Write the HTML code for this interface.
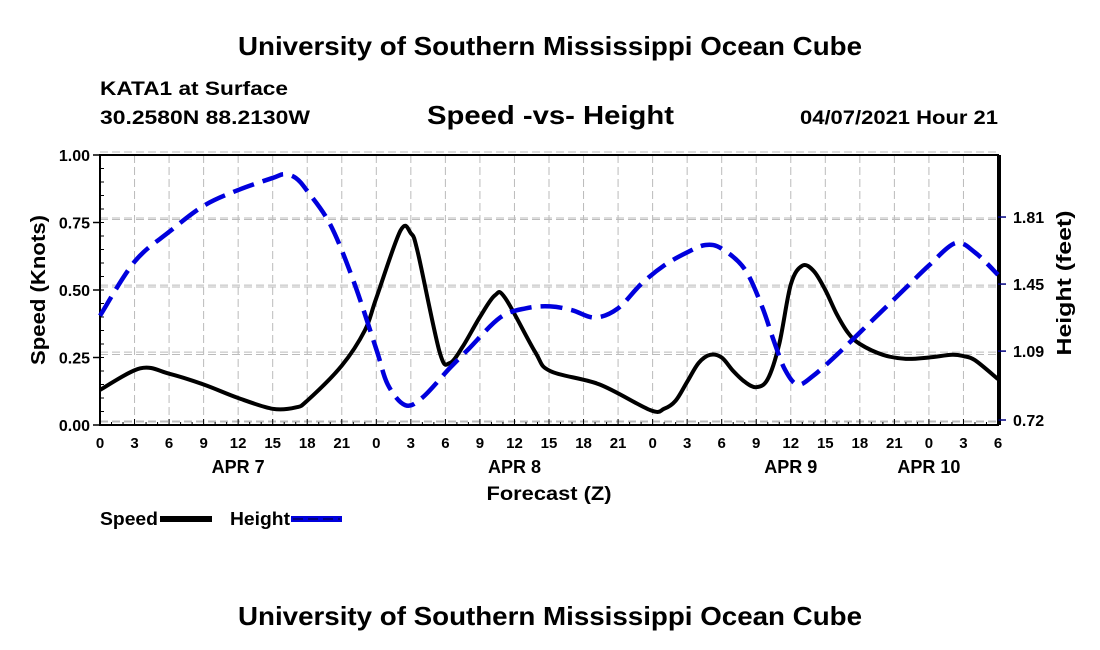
<!DOCTYPE html>
<html><head><meta charset="utf-8"><style>
body{margin:0;background:#fff;}
svg{display:block;font-family:"Liberation Sans",sans-serif;font-weight:bold;}
</style></head><body>
<svg id="c" width="1100" height="650" viewBox="0 0 1100 650">
<text x="238" y="55" font-size="26" textLength="624" lengthAdjust="spacingAndGlyphs">University of Southern Mississippi Ocean Cube</text>
<text x="100" y="95" font-size="19" textLength="188" lengthAdjust="spacingAndGlyphs">KATA1 at Surface</text>
<text x="100" y="124" font-size="19" textLength="210" lengthAdjust="spacingAndGlyphs">30.2580N  88.2130W</text>
<text x="427" y="124" font-size="26" textLength="247" lengthAdjust="spacingAndGlyphs">Speed -vs- Height</text>
<text x="800" y="124" font-size="19" textLength="198" lengthAdjust="spacingAndGlyphs">04/07/2021 Hour 21</text>
<g id="grid"></g>
<g id="axes"></g>
<path id="speed" fill="none" stroke="#000" stroke-width="4"/>
<path id="height" fill="none" stroke="#0000dd" stroke-width="4.5" stroke-dasharray="22 9"/>
<text x="100" y="525" font-size="18" textLength="58" lengthAdjust="spacingAndGlyphs">Speed</text>
<rect x="160" y="516" width="52" height="6" fill="#000"/>
<text x="230" y="525" font-size="18" textLength="60" lengthAdjust="spacingAndGlyphs">Height</text>
<rect x="291" y="516" width="51" height="6" fill="#0000dd"/>
<line x1="293" y1="519" x2="340" y2="519" stroke="#000080" stroke-width="2" stroke-dasharray="10 5"/>
<text x="238" y="625" font-size="26" textLength="624" lengthAdjust="spacingAndGlyphs">University of Southern Mississippi Ocean Cube</text>
<text x="45" y="290" font-size="20" text-anchor="middle" transform="rotate(-90 45 290)" textLength="150" lengthAdjust="spacingAndGlyphs">Speed (Knots)</text>
<text x="1071" y="283" font-size="20" text-anchor="middle" transform="rotate(-90 1071 283)" textLength="145" lengthAdjust="spacingAndGlyphs">Height (feet)</text>
<text x="549" y="500" font-size="19" text-anchor="middle" textLength="125" lengthAdjust="spacingAndGlyphs">Forecast (Z)</text>
</svg>
<script>
const speedHours=[0,3.5,6,9,12,15,17,18,21,23,24,26.1,27,27.6,29.5,30.4,31.5,33,34.3,35.2,37.8,39.1,43.4,47.8,49,50,51,52,53,54,55,56,57,58,59,60,61,62,63,64,65,66,68,70,72,74,75,76,78];
const speedValues=[0.13,0.21,0.19,0.15,0.10,0.06,0.065,0.09,0.22,0.35,0.47,0.72,0.71,0.64,0.27,0.23,0.29,0.40,0.48,0.47,0.27,0.20,0.15,0.055,0.06,0.09,0.16,0.23,0.26,0.25,0.20,0.16,0.14,0.17,0.30,0.52,0.59,0.57,0.50,0.41,0.34,0.30,0.26,0.245,0.25,0.26,0.255,0.24,0.17];
const heightHours=[0,3,6,9,12,15,16,17,18,20,22,24,25,26.5,28,30.4,32,34.75,37,39.1,41,43,45,47,49,51,52.6,54,56,57.5,58.5,59.5,60.6,62,64,66,68,70,72,74.3,76,78];
const heightValues=[1.28,1.57,1.73,1.87,1.955,2.02,2.04,2.02,1.95,1.77,1.47,1.10,0.91,0.80,0.84,1.0,1.10,1.27,1.32,1.33,1.31,1.27,1.32,1.45,1.55,1.62,1.66,1.64,1.53,1.33,1.15,0.99,0.91,0.96,1.07,1.19,1.31,1.43,1.55,1.67,1.62,1.50];
const speedTicks=["0.00","0.25","0.50","0.75","1.00"];
const heightTicks=["0.72","1.09","1.45","1.81"];
const hourLabels=["0","3","6","9","12","15","18","21","0","3","6","9","12","15","18","21","0","3","6","9","12","15","18","21","0","3","6"];
const dayLabels=["APR 7","APR 8","APR 9","APR 10"];
const dayCenters=[12,36,60,72];

const X0=100,X1=998,Y0=425,Y1=155,H=78;
const x=h=>X0+h*(X1-X0)/H;
const ys=v=>Y0-v*(Y0-Y1);
const yh=f=>420-(f-0.72)/0.3625*67.5;
const NS="http://www.w3.org/2000/svg";
function mk(parent,tag,attrs){const e=document.createElementNS(NS,tag);for(const k in attrs)e.setAttribute(k,attrs[k]);document.getElementById(parent).appendChild(e);return e;}
for(let i=1;i<hourLabels.length-1;i++){const g=mk('grid','line',{x1:x(i*3),x2:x(i*3),y1:Y1,y2:Y0,stroke:'#bbb','stroke-dasharray':'8 4'});

}
speedTicks.forEach(t=>{const g=mk('grid','line',{x1:X0,x2:X1,y1:ys(+t)-3,y2:ys(+t)-3,stroke:'#bbb','stroke-dasharray':'8 4'});

});
heightTicks.forEach(t=>{const g=mk('grid','line',{x1:X0,x2:X1,y1:yh(+t)+1,y2:yh(+t)+1,stroke:'#bbb','stroke-dasharray':'8 4'});

});
const fr=mk('axes','path',{d:`M${X0},${Y1}H${X1}V${Y0}H${X0}Z`,fill:'none',stroke:'#000','stroke-width':2});


const rs=mk('axes','line',{x1:X1+1,x2:X1+1,y1:Y1,y2:Y0,stroke:'#000','stroke-width':4});


speedTicks.forEach(t=>{const l=mk('axes','line',{x1:X0-7,x2:X0,y1:ys(+t),y2:ys(+t),stroke:'#000','stroke-width':1.5});


const tx=mk('axes','text',{x:X0-10,y:ys(+t)+6,'font-size':16,'text-anchor':'end'});tx.textContent=t;

});
for(let v=0.05;v<1;v+=0.05){const l=mk('axes','line',{x1:X0,x2:X0+4,y1:ys(v),y2:ys(v),stroke:'#000'});

}
heightTicks.forEach(t=>{const l=mk('axes','line',{x1:X1,x2:X1+8,y1:yh(+t),y2:yh(+t),stroke:'#000080','stroke-width':1.5});


const tx=mk('axes','text',{x:X1+15,y:yh(+t)+6,'font-size':16});tx.textContent=t;

});
for(let h=0;h<=H;h++){const l=mk('axes','line',{x1:x(h),x2:x(h),y1:Y0,y2:Y0-(h%3?3:6),stroke:'#000'});

}
hourLabels.forEach((t,i)=>{const tx=mk('axes','text',{x:x(i*3),y:448,'font-size':15,'text-anchor':'middle'});tx.textContent=t;

});
dayLabels.forEach((t,i)=>{const tx=mk('axes','text',{x:x(dayCenters[i]),y:473,'font-size':18,'text-anchor':'middle'});tx.textContent=t;

});
function smooth(pts){let d=`M${pts[0][0]},${pts[0][1]}`;for(let i=0;i<pts.length-1;i++){const p0=pts[i-1]||pts[i],p1=pts[i],p2=pts[i+1],p3=pts[i+2]||p2;
d+=`C${p1[0]+(p2[0]-p0[0])/6},${p1[1]+(p2[1]-p0[1])/6} ${p2[0]-(p3[0]-p1[0])/6},${p2[1]-(p3[1]-p1[1])/6} ${p2[0]},${p2[1]}`;}return d;}
document.getElementById('speed').setAttribute('d',smooth(speedHours.map((h,i)=>[x(h),ys(speedValues[i])])));
document.getElementById('height').setAttribute('d',smooth(heightHours.map((h,i)=>[x(h),yh(heightValues[i])])));
</script>
</body></html>
